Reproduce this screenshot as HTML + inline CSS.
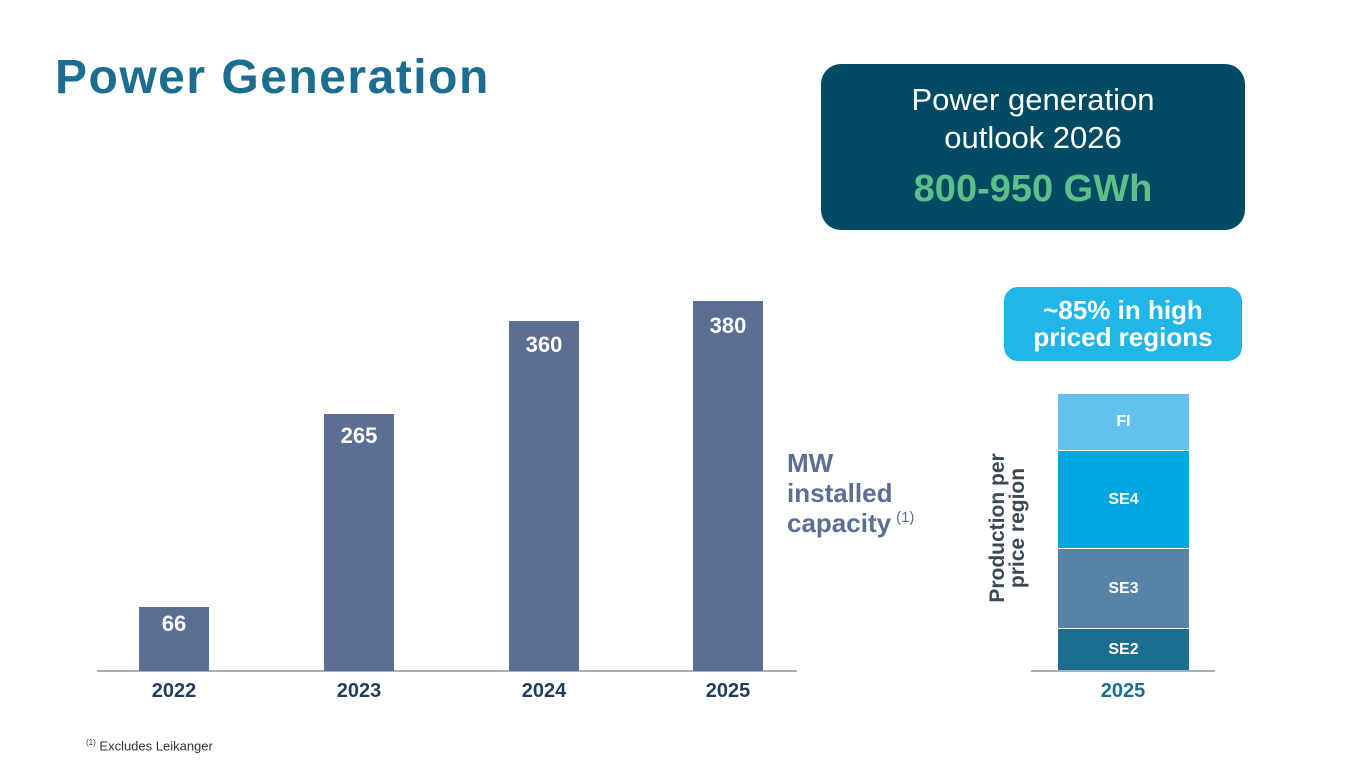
<!DOCTYPE html>
<html><head><meta charset="utf-8"><style>
body{margin:0;width:1365px;height:779px;background:#fff;position:relative;overflow:hidden;font-family:"Liberation Sans",sans-serif}
div{position:absolute}
.bar{background:#5b6e93}
.v{color:#fff;font-weight:bold;font-size:22px;text-align:center;width:70px}
.yr{color:#1f3e5c;font-weight:bold;font-size:20px;text-align:center;width:100px;top:680px}
.seg{left:1058px;width:131px;color:#fff;font-weight:bold;font-size:16px;display:flex;align-items:center;justify-content:center;border-top:1px solid #fff;box-sizing:border-box}
</style></head><body>
<div style="left:55px;top:50px;font-size:48px;font-weight:bold;color:#1b6e90;letter-spacing:1.5px">Power Generation</div>
<div style="left:821px;top:64px;width:424px;height:166px;background:#004a63;border-radius:20px;text-align:center;color:#fff">
<div style="left:0;width:424px;top:17px;font-size:31px;line-height:38px">Power generation<br>outlook 2026</div>
<div style="left:0;width:424px;top:104px;font-size:38px;font-weight:bold;color:#5cc08a">800-950 GWh</div></div>
<div style="left:1004px;top:287px;width:238px;height:74px;background:#20b7e8;border-radius:14px;color:#fff;font-weight:bold;font-size:26px;line-height:27px;text-align:center;display:flex;align-items:center;justify-content:center">~85% in high<br>priced regions</div>
<div style="left:97px;top:670px;width:700px;height:2px;background:#a5afb5"></div>
<div class="bar" style="left:139px;top:607px;width:70px;height:64px"></div>
<div class="bar" style="left:324px;top:414px;width:70px;height:257px"></div>
<div class="bar" style="left:509px;top:321px;width:70px;height:350px"></div>
<div class="bar" style="left:693px;top:301px;width:70px;height:370px"></div>
<div class="v" style="left:139px;top:611px">66</div>
<div class="v" style="left:324px;top:423px">265</div>
<div class="v" style="left:509px;top:332px">360</div>
<div class="v" style="left:693px;top:313px">380</div>
<div class="yr" style="left:124px">2022</div>
<div class="yr" style="left:309px">2023</div>
<div class="yr" style="left:494px">2024</div>
<div class="yr" style="left:678px">2025</div>
<div style="left:787px;top:448px;color:#5b6e93;font-weight:bold;font-size:26px;line-height:30px;white-space:nowrap">MW<br>installed<br>capacity<span style="position:relative;top:-10px;font-size:15px;font-weight:normal;margin-left:5px">(1)</span></div>
<div style="left:1031px;top:670px;width:184px;height:2px;background:#a5afb5"></div>
<div class="seg" style="top:394px;height:56px;background:#62c1ef;border-top:none">FI</div>
<div class="seg" style="top:450px;height:98px;background:#00a7e1">SE4</div>
<div class="seg" style="top:548px;height:80px;background:#5783a6">SE3</div>
<div class="seg" style="top:628px;height:42px;background:#1b6e90">SE2</div>
<div class="yr" style="left:1073px;color:#1b6e90">2025</div>
<div style="left:905px;top:506px;width:210px;height:44px;transform:rotate(-90deg);color:#3a4a55;font-weight:bold;font-size:21px;line-height:20px;text-align:center">Production per<br>price region</div>
<div style="left:86px;top:738px;font-size:13px;color:#333"><sup style="font-size:8px">(1)</sup> Excludes Leikanger</div>
</body></html>
